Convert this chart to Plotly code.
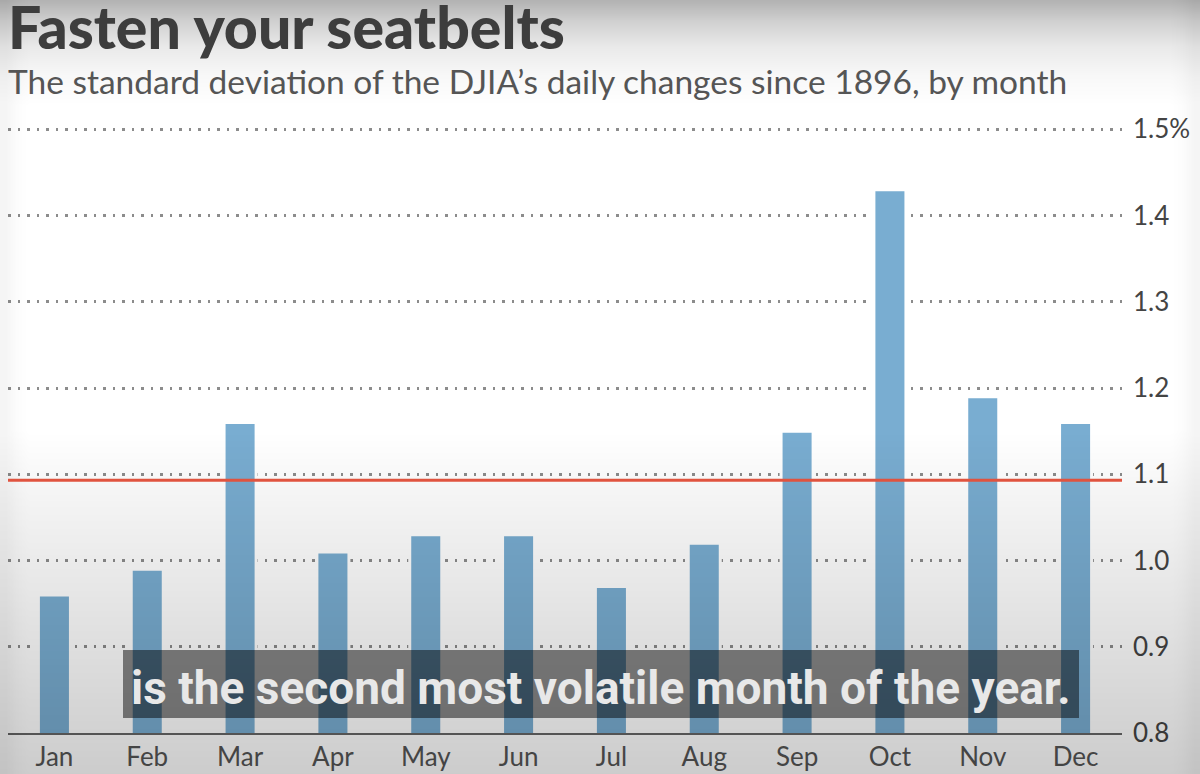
import base64, struct, zlib
import plotly.graph_objects as go

months = ["Jan", "Feb", "Mar", "Apr", "May", "Jun", "Jul", "Aug", "Sep", "Oct", "Nov", "Dec"]
std_dev = [0.96, 0.99, 1.16, 1.01, 1.03, 1.03, 0.97, 1.02, 1.15, 1.43, 1.19, 1.16]
average = 1.093
tick_vals = [0.8, 0.9, 1.0, 1.1, 1.2, 1.3, 1.4, 1.5]
tick_text = ["0.8", "0.9", "1.0", "1.1", "1.2", "1.3", "1.4", "1.5%"]

W, H = 1200, 774
L, R, T, B = 8, 78, 128, 41
PW, PH = W - L - R, H - T - B


# ---- video-frame vignette (semi-transparent dark overlay), built as a PNG ----
def alpha_at(y, x):
    pts = [(0, 0.30), (20, 0.19), (45, 0.09), (75, 0.03), (105, 0.0),
           (430, 0.0), (490, 0.04), (560, 0.08), (630, 0.12), (700, 0.16), (774, 0.20)]
    a = 0.0
    for (y0, a0), (y1, a1) in zip(pts[:-1], pts[1:]):
        if y0 <= y <= y1:
            a = a0 + (a1 - a0) * (y - y0) / (y1 - y0)
            break
    edge = min(x, 1 - x)
    if edge < 0.02:
        a += 0.05 * (1 - edge / 0.02)
    return min(a, 1.0)


def make_png(w, h):
    rows = []
    for j in range(h):
        yy = j * H / h
        row = bytearray([0])
        for i in range(w):
            a = alpha_at(yy, (i + 0.5) / w)
            row += bytes([0, 0, 0, int(round(a * 255))])
        rows.append(bytes(row))
    raw = b"".join(rows)

    def chunk(t, d):
        c = struct.pack(">I", len(d)) + t + d
        return c + struct.pack(">I", zlib.crc32(t + d) & 0xFFFFFFFF)

    png = b"\x89PNG\r\n\x1a\n"
    png += chunk(b"IHDR", struct.pack(">IIBBBBB", w, h, 8, 6, 0, 0, 0))
    png += chunk(b"IDAT", zlib.compress(raw, 9))
    png += chunk(b"IEND", b"")
    return "data:image/png;base64," + base64.b64encode(png).decode()


vignette = make_png(100, 387)

fig = go.Figure()
fig.add_trace(go.Bar(
    x=months, y=std_dev,
    marker=dict(color="#79add1", line=dict(color="white", width=3)),
    hoverinfo="skip",
))
fig.add_hline(y=average, line=dict(color="#e0533f", width=3), layer="above")

fig.update_layout(
    width=W, height=H,
    margin=dict(l=L, r=R, t=T, b=B, autoexpand=False),
    paper_bgcolor="white", plot_bgcolor="rgba(0,0,0,0)",
    showlegend=False, bargap=0.655,
    font=dict(family="Lato", color="#4a4a4a"),
    xaxis=dict(
        showgrid=False, showline=True, linecolor="#666666", linewidth=2,
        ticks="", tickfont=dict(size=26, color="#555555"), automargin=False,
        fixedrange=True,
    ),
    yaxis=dict(
        range=[0.8, 1.5015], side="right", tickvals=tick_vals, ticktext=tick_text,
        showgrid=True, gridcolor="#8c8c8c", gridwidth=2.5, griddash="2.5px,7px",
        zeroline=False, ticks="", ticklabelstandoff=10, automargin=False,
        tickfont=dict(size=26, color="#444444"),
    ),
    images=[dict(
        source=vignette, xref="paper", yref="paper",
        x=-L / PW, y=1 + T / PH, sizex=W / PW, sizey=H / PH,
        xanchor="left", yanchor="top", sizing="stretch", layer="above",
    )],
)

# caption box (video subtitle overlay)
fig.add_shape(type="rect", xref="paper", yref="paper",
              x0=(123 - L) / PW, x1=(1079 - L) / PW,
              y0=(H - B - 718) / PH, y1=(H - B - 650) / PH,
              fillcolor="rgba(0,0,0,0.48)", line=dict(width=0), layer="above")
fig.add_annotation(text="is the second most volatile month of the year.",
                   xref="paper", yref="paper", x=(601 - L) / PW, y=(H - B - 688) / PH,
                   showarrow=False, xanchor="center", yanchor="middle",
                   font=dict(family="Roboto", size=46, color="#e8e8e8", weight=700))

# title & subtitle
fig.add_annotation(text="Fasten your seatbelts", xref="paper", yref="paper",
                   x=(6 - L) / PW, y=1 + (T - 27) / PH, xanchor="left", yanchor="middle",
                   showarrow=False,
                   font=dict(family="Lato", size=59, color="#3d3d3d", weight=900))
fig.add_annotation(text="The standard deviation of the DJIA’s daily changes since 1896, by month",
                   xref="paper", yref="paper",
                   x=(6 - L) / PW, y=1 + (T - 81) / PH, xanchor="left", yanchor="middle",
                   showarrow=False,
                   font=dict(family="Lato", size=33.5, color="#555555"))

fig.write_html("out.html", config={"displayModeBar": False},
               post_script="document.body.style.margin='0';")
